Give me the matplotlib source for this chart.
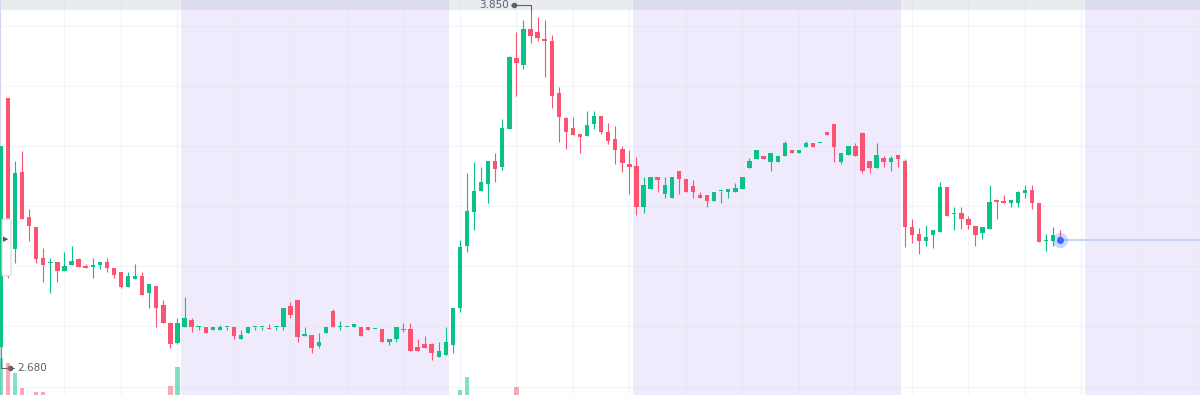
import matplotlib
matplotlib.use("Agg")
import matplotlib.pyplot as plt
import matplotlib.transforms as mtransforms
from matplotlib.patches import FancyBboxPatch
import numpy as np

### data (one candle per bar)
opens = [2.732, 3.561, 3.057, 3.315, 3.165, 3.130, 3.027, 3.010, 3.016, 2.986,
         3.005, 3.025, 3.002, 2.999, 3.005, 3.016, 2.996, 2.982, 2.930, 2.957,
         2.968, 2.912, 2.935, 2.872, 2.811, 2.744, 2.799, 2.820, 2.799, 2.799,
         2.789, 2.789, 2.799, 2.799, 2.757, 2.779, 2.799, 2.799, 2.791, 2.799,
         2.797, 2.868, 2.888, 2.770, 2.772, 2.735, 2.779, 2.852, 2.799, 2.799,
         2.797, 2.799, 2.799, 2.791, 2.791, 2.747, 2.758, 2.792, 2.792, 2.731,
         2.741, 2.741, 2.700, 2.704, 2.738, 2.861, 3.068, 3.182, 3.252, 3.273,
         3.351, 3.330, 3.456, 3.695, 3.670, 3.790, 3.779, 3.756, 3.751, 3.576,
         3.495, 3.460, 3.441, 3.434, 3.473, 3.501, 3.448, 3.424, 3.390, 3.341,
         3.335, 3.197, 3.257, 3.298, 3.240, 3.227, 3.318, 3.290, 3.269, 3.238,
         3.238, 3.218, 3.251, 3.247, 3.249, 3.257, 3.329, 3.357, 3.368, 3.349,
         3.349, 3.368, 3.387, 3.376, 3.398, 3.412, 3.410, 3.448, 3.473, 3.346,
         3.371, 3.402, 3.443, 3.351, 3.329, 3.360, 3.349, 3.371, 3.351, 3.132,
         3.108, 3.086, 3.104, 3.115, 3.265, 3.175, 3.179, 3.157, 3.134, 3.110,
         3.124, 3.221, 3.219, 3.210, 3.210, 3.243, 3.254, 3.210, 3.085, 3.086,
         3.097]
highs = [3.400, 3.561, 3.352, 3.384, 3.190, 3.130, 3.060, 3.029, 3.016, 3.049,
         3.068, 3.029, 3.008, 3.027, 3.016, 3.029, 2.996, 2.982, 2.980, 3.008,
         2.980, 2.940, 2.935, 2.888, 2.816, 2.827, 2.899, 2.827, 2.800, 2.799,
         2.799, 2.805, 2.799, 2.799, 2.789, 2.799, 2.799, 2.799, 2.807, 2.799,
         2.861, 2.880, 2.888, 2.799, 2.772, 2.779, 2.799, 2.858, 2.818, 2.799,
         2.807, 2.799, 2.799, 2.791, 2.791, 2.758, 2.799, 2.810, 2.810, 2.757,
         2.768, 2.745, 2.747, 2.799, 2.862, 3.088, 3.310, 3.349, 3.330, 3.351,
         3.376, 3.490, 3.700, 3.779, 3.820, 3.850, 3.829, 3.820, 3.770, 3.596,
         3.498, 3.498, 3.441, 3.517, 3.517, 3.501, 3.476, 3.468, 3.401, 3.387,
         3.365, 3.298, 3.298, 3.298, 3.298, 3.298, 3.318, 3.290, 3.288, 3.247,
         3.238, 3.249, 3.251, 3.258, 3.279, 3.298, 3.360, 3.387, 3.368, 3.378,
         3.368, 3.418, 3.387, 3.387, 3.418, 3.412, 3.412, 3.448, 3.473, 3.378,
         3.402, 3.410, 3.446, 3.351, 3.410, 3.368, 3.368, 3.371, 3.357, 3.157,
         3.127, 3.138, 3.121, 3.280, 3.265, 3.199, 3.199, 3.168, 3.134, 3.130,
         3.271, 3.221, 3.238, 3.221, 3.252, 3.271, 3.271, 3.210, 3.107, 3.130,
         3.121]
lows = [2.680, 2.961, 3.010, 3.158, 3.086, 3.010, 2.949, 2.910, 2.949, 2.986,
        3.005, 2.999, 2.994, 2.960, 2.990, 2.980, 2.960, 2.929, 2.930, 2.957,
        2.905, 2.860, 2.799, 2.811, 2.729, 2.741, 2.799, 2.781, 2.789, 2.779,
        2.789, 2.789, 2.789, 2.757, 2.757, 2.779, 2.789, 2.789, 2.790, 2.789,
        2.789, 2.827, 2.747, 2.770, 2.711, 2.727, 2.779, 2.797, 2.789, 2.799,
        2.797, 2.768, 2.789, 2.791, 2.747, 2.738, 2.750, 2.781, 2.720, 2.718,
        2.728, 2.689, 2.700, 2.704, 2.711, 2.849, 3.049, 3.121, 3.252, 3.210,
        3.280, 3.321, 3.456, 3.568, 3.656, 3.744, 3.751, 3.629, 3.528, 3.413,
        3.391, 3.437, 3.378, 3.434, 3.457, 3.440, 3.407, 3.341, 3.315, 3.240,
        3.171, 3.177, 3.257, 3.249, 3.229, 3.227, 3.240, 3.247, 3.229, 3.227,
        3.199, 3.218, 3.210, 3.229, 3.249, 3.257, 3.329, 3.357, 3.357, 3.318,
        3.349, 3.368, 3.376, 3.376, 3.398, 3.398, 3.410, 3.437, 3.349, 3.340,
        3.371, 3.368, 3.310, 3.310, 3.329, 3.332, 3.318, 3.332, 3.065, 3.079,
        3.041, 3.069, 3.060, 3.115, 3.169, 3.121, 3.124, 3.124, 3.069, 3.090,
        3.124, 3.158, 3.210, 3.199, 3.199, 3.229, 3.190, 3.082, 3.052, 3.069,
        3.088]
closes = [3.400, 3.158, 3.310, 3.158, 3.135, 3.025, 3.005, 3.016, 2.986, 3.002,
          3.019, 2.999, 2.994, 3.002, 3.016, 2.994, 2.971, 2.932, 2.968, 2.968,
          2.905, 2.940, 2.861, 2.811, 2.741, 2.811, 2.827, 2.799, 2.800, 2.779,
          2.799, 2.799, 2.799, 2.768, 2.772, 2.799, 2.799, 2.799, 2.790, 2.799,
          2.861, 2.838, 2.764, 2.770, 2.727, 2.749, 2.799, 2.797, 2.799, 2.799,
          2.807, 2.768, 2.789, 2.791, 2.747, 2.758, 2.799, 2.789, 2.720, 2.718,
          2.728, 2.711, 2.718, 2.747, 2.862, 3.064, 3.185, 3.252, 3.280, 3.351,
          3.324, 3.462, 3.696, 3.676, 3.790, 3.768, 3.759, 3.750, 3.567, 3.498,
          3.446, 3.437, 3.430, 3.471, 3.501, 3.446, 3.417, 3.387, 3.345, 3.332,
          3.199, 3.271, 3.298, 3.287, 3.271, 3.298, 3.290, 3.247, 3.249, 3.227,
          3.218, 3.249, 3.251, 3.258, 3.260, 3.298, 3.351, 3.387, 3.357, 3.378,
          3.368, 3.410, 3.376, 3.387, 3.412, 3.398, 3.412, 3.437, 3.398, 3.378,
          3.402, 3.368, 3.318, 3.329, 3.371, 3.346, 3.360, 3.357, 3.132, 3.104,
          3.086, 3.099, 3.121, 3.263, 3.169, 3.179, 3.158, 3.138, 3.104, 3.130,
          3.213, 3.213, 3.210, 3.221, 3.249, 3.254, 3.210, 3.082, 3.088, 3.104,
          3.088]

# only the bars that rise into view from the volume pane
vol_idx = [0, 1, 2, 3, 5, 6, 24, 25, 65, 66, 73]
vol_val = [444, 384, 264, 84, 36, 36, 108, 336, 60, 216, 96]

# shaded session blocks (in bar units)
sessions = [(25.5, 63.5), (89.5, 127.5), (153.5, 191.5)]

max_label = "3.850"
min_label = "2.680"

### colours
GREEN = "#08c288"
RED = "#fb5370"
BAND = "#efebfd"
GRID = "#dde1ea"
TXT = "#5d606b"

n = len(opens)
x = np.arange(n)
o = np.array(opens)
h = np.array(highs)
l = np.array(lows)
c = np.array(closes)
up = c >= o
cols = np.where(up, GREEN, RED)

fig = plt.figure(figsize=(12, 3.95), dpi=100)
ax = fig.add_axes([0, 0, 1, 1])
ax.set_xlim(-0.13, 169.8)
ax.set_ylim(2.572, 3.8865)

# session shading + top strip
for a, b in sessions:
    ax.axvspan(a, b, color=BAND, lw=0, zorder=0)
ax.axhspan(3.8516, 3.95, color="#8ca0af", alpha=0.2, lw=0, zorder=0.5)

# grid
for gy in np.arange(2.6, 3.81, 0.2):
    ax.axhline(gy, color=GRID, alpha=0.33, lw=1, zorder=0.6)
for gx in range(9, 170, 8):
    ax.axvline(gx, color=GRID, alpha=0.33, lw=1, zorder=0.6)

# volume pane (only the tallest bars reach the visible area)
ax2 = ax.twinx()
ax2.set_ylim(0, 4740)
ax2.bar(vol_idx, vol_val, width=0.6, color=[cols[i] for i in vol_idx], alpha=0.5, lw=0)
ax2.axis("off")

# candles
ax.vlines(x, l, h, colors=cols, lw=0.8, zorder=3)
body_lo = np.minimum(o, c)
body_h = np.maximum(np.abs(c - o), 0.004)
ax.bar(x, body_h, bottom=body_lo, width=0.62, color=cols, lw=0, zorder=4)

# last price line + dot
last = c[-1]
ax.plot([x[-1], 170], [last, last], color="#c8d3fb", lw=1.4, zorder=2)
ax.plot(x[-1], last, "o", ms=11, color="#2f6bff", alpha=0.25, mec="none", zorder=5)
ax.plot(x[-1], last, "o", ms=5, color="#2f6bff", mec="none", zorder=6)

# max / min markers
imax = int(np.argmax(h))
imin = int(np.argmin(l))
ax.annotate(max_label, xy=(imax, h[imax]), xytext=(-22, 6), textcoords="offset pixels",
            ha="right", va="center", fontsize=7.5, color=TXT, zorder=7,
            arrowprops=dict(arrowstyle="-", color=TXT, lw=0.8, shrinkA=0, shrinkB=0,
                            connectionstyle="angle,angleA=0,angleB=90,rad=0"))
tr = mtransforms.offset_copy(ax.transData, fig=fig, x=-17, y=6, units="dots")
ax.plot(imax, h[imax], "o", ms=3, color=TXT, transform=tr, zorder=7)

ax.annotate(min_label, xy=(imin, l[imin]), xytext=(16, -5), textcoords="offset pixels",
            ha="left", va="center", fontsize=7.5, color=TXT, zorder=7,
            arrowprops=dict(arrowstyle="-", color=TXT, lw=0.8, shrinkA=0, shrinkB=0,
                            connectionstyle="angle,angleA=0,angleB=90,rad=0"))
tr2 = mtransforms.offset_copy(ax.transData, fig=fig, x=9, y=-5, units="dots")
ax.plot(imin, l[imin], "o", ms=3, color=TXT, transform=tr2, zorder=7)

# scroll button on the left edge
btn = FancyBboxPatch((2 / 1200, 1 - 276 / 395), 9 / 1200, 57 / 395,
                     boxstyle="round,pad=0,rounding_size=0.002", transform=ax.transAxes,
                     fc="white", ec="#d5d7de", lw=0.8, zorder=8)
ax.add_patch(btn)
ax.text(6 / 1200, 1 - 239 / 395, "\u25b6", transform=ax.transAxes, fontsize=5,
        color="#50535e", ha="center", va="center", zorder=9)

for s in ["top", "right", "bottom"]:
    ax.spines[s].set_visible(False)
ax.spines["left"].set_color("#d0d8ee")
ax.set_xticks([])
ax.set_yticks([])

fig.savefig("out.png", dpi=100)
